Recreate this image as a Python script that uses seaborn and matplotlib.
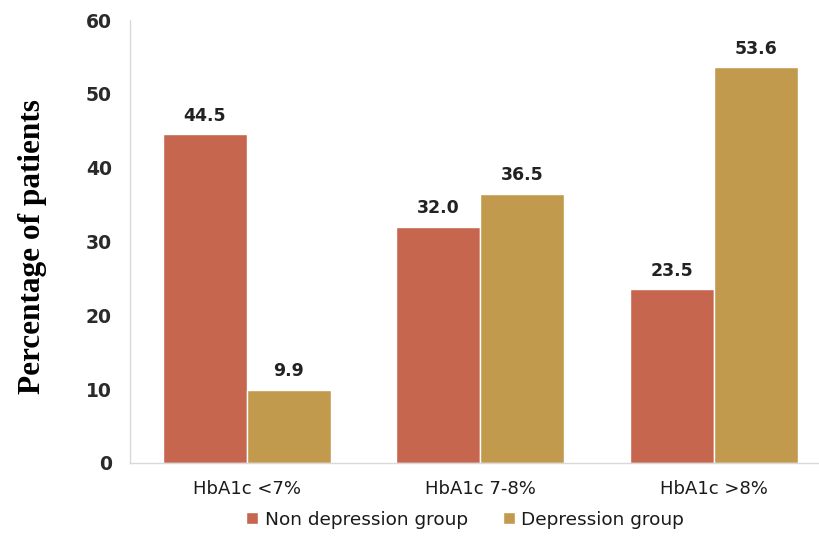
import matplotlib
matplotlib.use("Agg")
import matplotlib.pyplot as plt
import seaborn as sns
import pandas as pd

categories = ["HbA1c <7%", "HbA1c 7-8%", "HbA1c >8%"]
groups = ["Non depression group", "Depression group"]
non_depression = [44.5, 32.0, 23.5]
depression = [9.9, 36.5, 53.6]
colors = ["#C6664F", "#C19A4E"]

df = pd.DataFrame({
    "category": categories * 2,
    "group": [groups[0]] * 3 + [groups[1]] * 3,
    "value": non_depression + depression,
})

sns.set_theme(style="white")
plt.rcParams["font.family"] = ["DejaVu Sans"]

fig = plt.figure(figsize=(8.2, 5.37), dpi=100)
ax = fig.add_axes([130 / 820, (537 - 463) / 537, 690 / 820, (463 - 20) / 537])

sns.barplot(data=df, x="category", y="value", hue="group", palette=colors,
            width=0.72, saturation=1, ax=ax, legend=True)

for container in ax.containers:
    ax.bar_label(container, fmt="%.1f", padding=7, fontsize=12.5,
                 fontweight="bold", color="#222222")

ax.set_xlim(-0.5, 2.455)
ax.set_ylim(0, 60)
ax.set_yticks(range(0, 61, 10))
ax.set_xlabel("")
ax.set_ylabel("Percentage of patients", family="Liberation Serif",
              fontsize=22.5, fontweight="bold", color="black", labelpad=28)
ax.yaxis.label.set_y(0.489)
ax.tick_params(axis="y", labelsize=13.5, colors="#2a2a2a", pad=13, length=0)
ax.tick_params(axis="x", labelsize=13, colors="#1a1a1a", pad=12, length=0)
for lab in ax.get_yticklabels():
    lab.set_fontweight("bold")

for side in ["top", "right"]:
    ax.spines[side].set_visible(False)
for side in ["left", "bottom"]:
    ax.spines[side].set_color("#D9D9D9")
    ax.spines[side].set_linewidth(1.0)

leg = ax.legend(loc="center", bbox_to_anchor=(0.486, -0.128), ncol=2,
                frameon=False, fontsize=13.3,
                handlelength=0.65, handleheight=0.65,
                handletextpad=0.35, columnspacing=1.9, borderpad=0)
for t in leg.get_texts():
    t.set_color("#1a1a1a")

fig.savefig("out.png", dpi=100)
